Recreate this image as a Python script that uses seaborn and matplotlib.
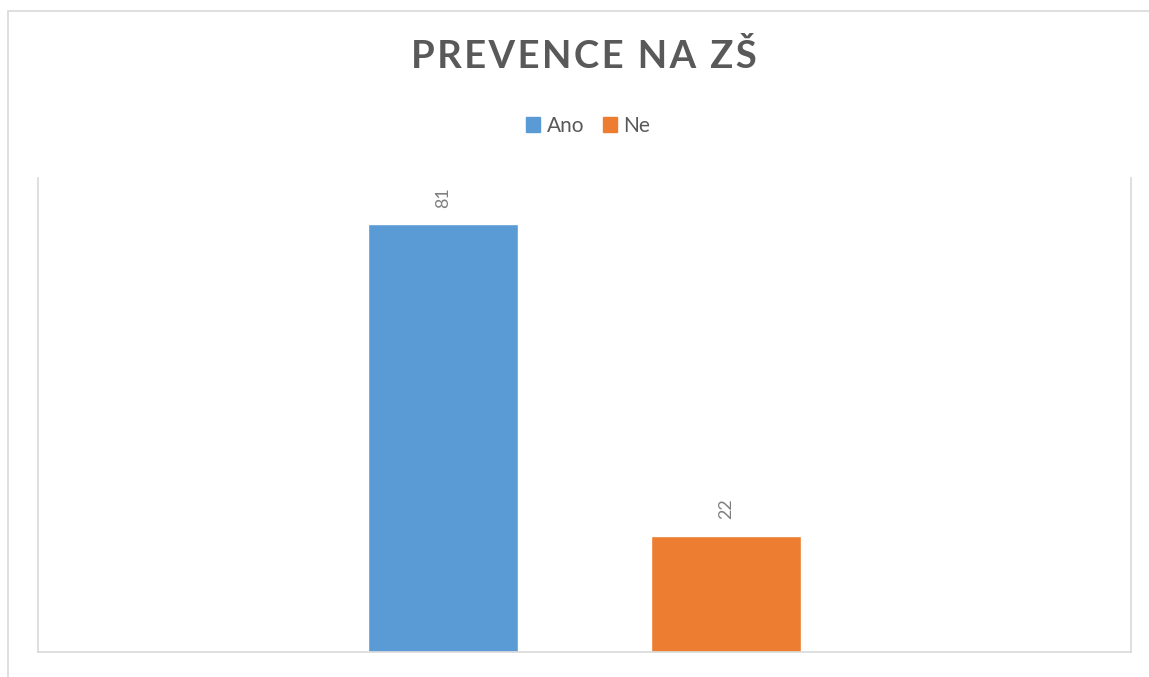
import matplotlib
matplotlib.use("Agg")
import matplotlib.pyplot as plt
import matplotlib.patches as mpatches
import pandas as pd
import seaborn as sns

# data
series = ["Ano", "Ne"]
values = [81, 22]
category = ["Prevence na ZŠ"] * len(series)
colors = ["#5B9BD5", "#ED7D31"]

df = pd.DataFrame({"kategorie": category, "odpoved": series, "pocet": values})

sns.set_style("white")
plt.rcParams["font.family"] = ["Lato", "DejaVu Sans"]

W, H = 1149, 677
fig = plt.figure(figsize=(W / 100, H / 100), dpi=100)
ax = fig.add_axes([38 / W, 1 - 652 / H, (1131 - 38) / W, (652 - 178) / H])

sns.barplot(data=df, x="kategorie", y="pocet", hue="odpoved", palette=colors,
            width=0.519, gap=0.472, ax=ax, legend=False, saturation=1)

for cont in ax.containers:
    ax.bar_label(cont, rotation=90, padding=12, color="#7F7F7F", fontsize=13)

ax.set_ylim(0, 89.8)
ax.set_xlim(-0.5, 0.5)
ax.set_xticks([])
ax.set_yticks([])
ax.set_xlabel("")
ax.set_ylabel("")
for side in ["left", "right", "bottom"]:
    ax.spines[side].set_color("#D9D9D9")
    ax.spines[side].set_linewidth(1.2)
ax.spines["top"].set_visible(False)

# chart border (left and top edges visible in reference)
border = mpatches.Rectangle((8 / W, -0.2), 1.2, 1.2 - 11 / H, transform=fig.transFigure,
                            fill=False, edgecolor="#D9D9D9", linewidth=1.2)
fig.patches.append(border)

title = "\u200a".join("PREVENCE NA ZŠ")
fig.text(584 / W, 1 - 57 / H, title, ha="center", va="center",
         fontsize=27.5, fontweight="bold", color="#595959")

handles = [mpatches.Patch(color=c, label=s) for s, c in zip(series, colors)]
fig.legend(handles=handles, loc="center", bbox_to_anchor=(588 / W, 1 - 126 / H), ncol=2,
           frameon=False, fontsize=15, handlelength=0.7, handleheight=0.7,
           handletextpad=0.3, columnspacing=0.9, labelcolor="#595959")

fig.savefig("out.png", dpi=100, facecolor="white")
